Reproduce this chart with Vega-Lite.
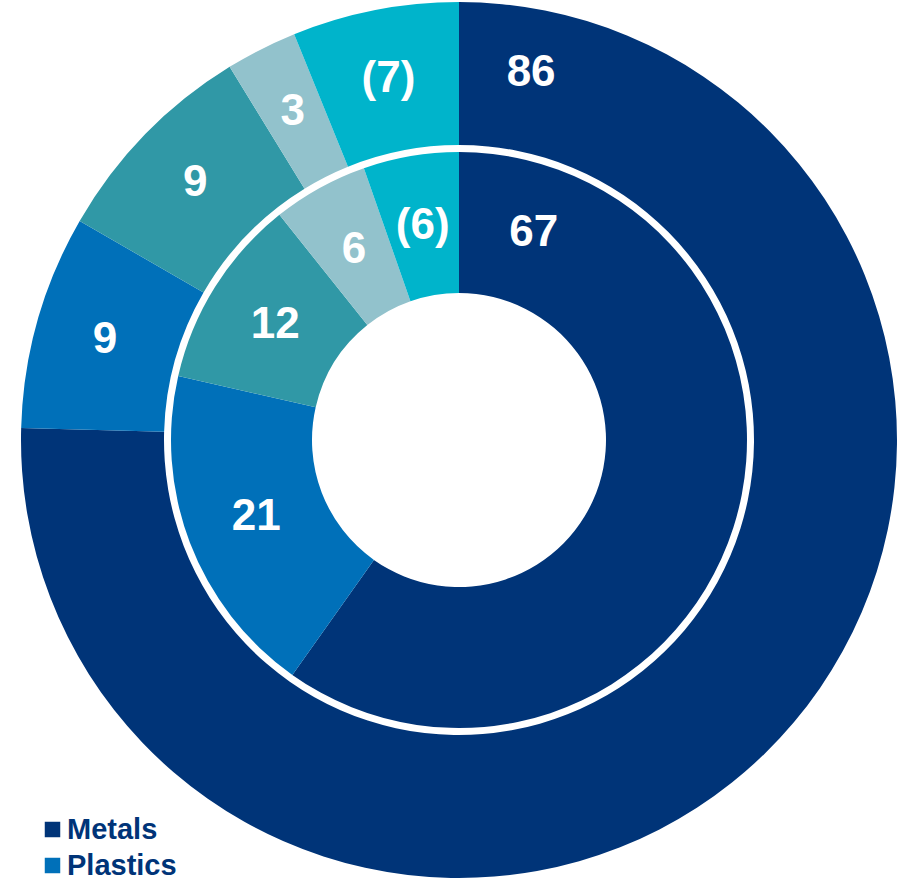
{
  "$schema": "https://vega.github.io/schema/vega-lite/v6.json",
  "width": 890,
  "height": 880,
  "autosize": "none",
  "padding": {"left": 14, "top": 0, "right": 0, "bottom": 0},
  "background": "white",
  "config": {"view": {"stroke": null}},
  "data": {
    "values": [
      {"ring": "outer", "category": "Metals", "rank": 1, "value": 86, "label": "86"},
      {"ring": "outer", "category": "Plastics", "rank": 2, "value": 9, "label": "9"},
      {"ring": "outer", "category": "Packaging", "rank": 3, "value": 9, "label": "9"},
      {"ring": "outer", "category": "Specialty", "rank": 4, "value": 3, "label": "3"},
      {"ring": "outer", "category": "Corporate", "rank": 5, "value": 7, "label": "(7)"},
      {"ring": "inner", "category": "Metals", "rank": 1, "value": 67, "label": "67"},
      {"ring": "inner", "category": "Plastics", "rank": 2, "value": 21, "label": "21"},
      {"ring": "inner", "category": "Packaging", "rank": 3, "value": 12, "label": "12"},
      {"ring": "inner", "category": "Specialty", "rank": 4, "value": 6, "label": "6"},
      {"ring": "inner", "category": "Corporate", "rank": 5, "value": 6, "label": "(6)"}
    ]
  },
  "resolve": {"scale": {"theta": "independent"}},
  "layer": [
    {
      "transform": [{"filter": "datum.ring === 'outer'"}],
      "layer": [
        {
          "mark": {"type": "arc", "radius": 438, "radius2": 295, "stroke": null},
          "encoding": {
            "theta": {"field": "value", "type": "quantitative", "stack": true},
            "order": {"field": "rank", "type": "quantitative"},
            "color": {
              "field": "category",
              "type": "nominal",
              "scale": {
                "domain": ["Metals", "Plastics", "Packaging", "Specialty", "Corporate"],
                "range": ["#003478", "#0070B9", "#3098A6", "#92C2CC", "#00B4CB"]
              },
              "legend": {
                "orient": "none",
                "legendX": 24,
                "legendY": 815,
                "title": null,
                "values": ["Metals", "Plastics"],
                "symbolType": "square",
                "symbolSize": 240,
                "symbolStrokeWidth": 0,
                "labelFontSize": 29,
                "labelFont": "Liberation Sans",
                "labelFontWeight": "bold",
                "labelColor": "#003478",
                "labelOffset": 0,
                "rowPadding": 6,
                "padding": 0
              }
            }
          }
        },
        {
          "mark": {"type": "text", "radius": 368, "color": "white", "font": "Liberation Sans", "fontWeight": "bold", "fontSize": 44, "align": "center", "baseline": "middle"},
          "encoding": {
            "theta": {"field": "value", "type": "quantitative", "stack": true},
            "order": {"field": "rank", "type": "quantitative"},
            "text": {"condition": {"test": "datum.category === 'Metals'", "value": ""}, "field": "label", "type": "nominal"}
          }
        },
        {
          "transform": [{"filter": "datum.category === 'Metals'"}],
          "mark": {"type": "text", "theta": 0.194, "radius": 374, "color": "white", "font": "Liberation Sans", "fontWeight": "bold", "fontSize": 44, "align": "center", "baseline": "middle"},
          "encoding": {
            "text": {"field": "label", "type": "nominal"}
          }
        }
      ]
    },
    {
      "transform": [{"filter": "datum.ring === 'inner'"}],
      "layer": [
        {
          "mark": {"type": "arc", "radius": 288, "radius2": 147, "stroke": null},
          "encoding": {
            "theta": {"field": "value", "type": "quantitative", "stack": true},
            "order": {"field": "rank", "type": "quantitative"},
            "color": {
              "field": "category",
              "type": "nominal",
              "scale": {
                "domain": ["Metals", "Plastics", "Packaging", "Specialty", "Corporate"],
                "range": ["#003478", "#0070B9", "#3098A6", "#92C2CC", "#00B4CB"]
              },
              "legend": {
                "orient": "none",
                "legendX": 24,
                "legendY": 815,
                "title": null,
                "values": ["Metals", "Plastics"],
                "symbolType": "square",
                "symbolSize": 240,
                "symbolStrokeWidth": 0,
                "labelFontSize": 29,
                "labelFont": "Liberation Sans",
                "labelFontWeight": "bold",
                "labelColor": "#003478",
                "labelOffset": 0,
                "rowPadding": 6,
                "padding": 0
              }
            }
          }
        },
        {
          "mark": {"type": "text", "radius": 217, "color": "white", "font": "Liberation Sans", "fontWeight": "bold", "fontSize": 44, "align": "center", "baseline": "middle"},
          "encoding": {
            "theta": {"field": "value", "type": "quantitative", "stack": true},
            "order": {"field": "rank", "type": "quantitative"},
            "text": {"condition": {"test": "datum.category === 'Metals'", "value": ""}, "field": "label", "type": "nominal"}
          }
        },
        {
          "transform": [{"filter": "datum.category === 'Metals'"}],
          "mark": {"type": "text", "theta": 0.347, "radius": 220, "color": "white", "font": "Liberation Sans", "fontWeight": "bold", "fontSize": 44, "align": "center", "baseline": "middle"},
          "encoding": {
            "text": {"field": "label", "type": "nominal"}
          }
        }
      ]
    }
  ]
}
